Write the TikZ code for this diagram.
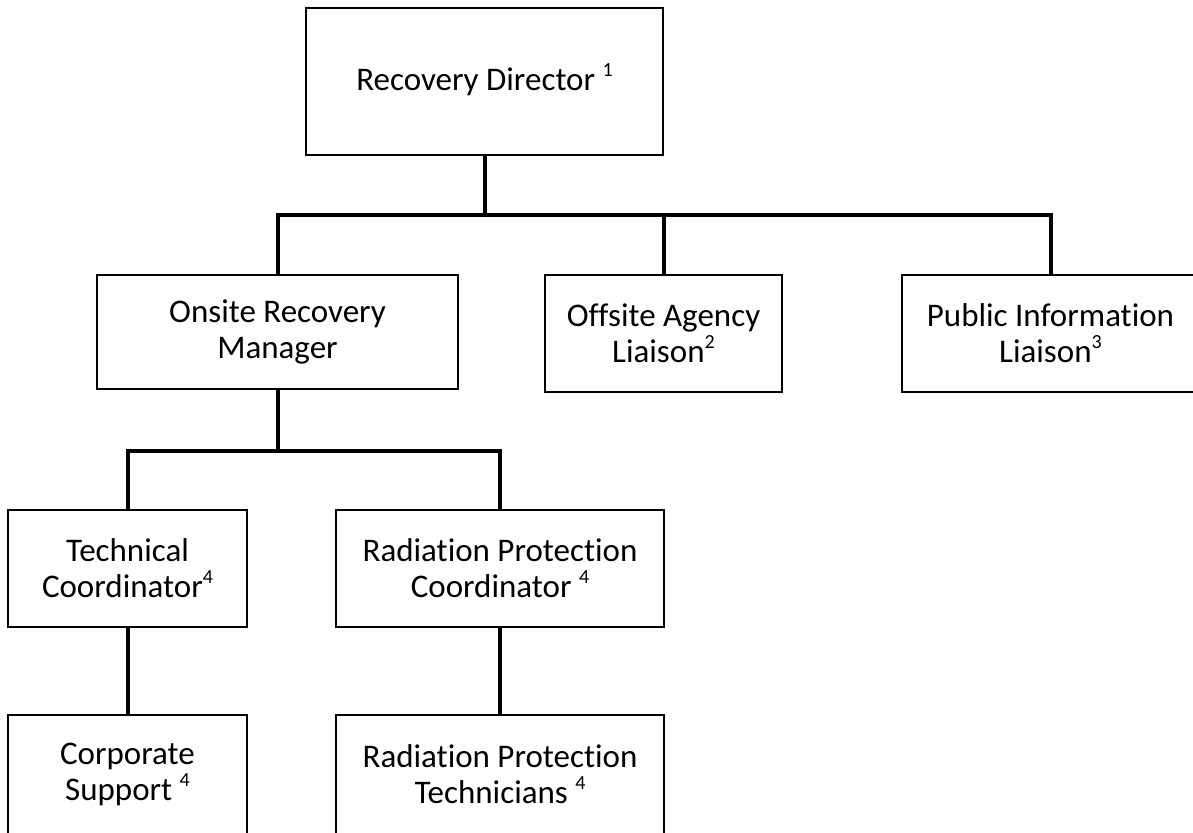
\documentclass[tikz,border=0pt]{standalone}
\usepackage{fontspec}
\setmainfont{Carlito}[RawFeature={-liga}]
\newcommand\supnum[1]{\smash{\raisebox{0.42em}{\fontsize{20}{20}\selectfont #1}}}
\begin{document}
\begin{tikzpicture}[x=1pt,y=-1pt,
  box/.style={draw=black, line width=1.4pt, fill=white, align=center,
    inner sep=0pt, font=\fontsize{33}{36}\selectfont},
  conn/.style={draw=black, line width=4pt}]
\useasboundingbox (0,0) rectangle (1193,832);
\fill[white] (0,0) rectangle (1193,832);
% rows
\node[box, minimum width=357pt, minimum height=147pt] (rd) at (484.5,81.5) {Recovery Director \supnum{1}};
\node[box, minimum width=361pt, minimum height=114pt] (onsite) at (277.5,332) {Onsite Recovery\\Manager};
\node[box, minimum width=237pt, minimum height=117pt] (offsite) at (663.5,333.5) {Offsite Agency\\Liaison\supnum{2}};
\node[box, minimum width=297pt, minimum height=117pt] (pub) at (1050.5,333.5) {Public Information\\Liaison\supnum{3}};
\node[box, minimum width=239pt, minimum height=117pt] (tech) at (127.5,568.5) {Technical\\Coordinator\supnum{4}};
\node[box, minimum width=328pt, minimum height=117pt] (rpc) at (500,568.5) {Radiation Protection\\Coordinator \supnum{4}};
\node[box, minimum width=239pt, minimum height=119pt] (corp) at (127.5,774.5) {Corporate\\Support \supnum{4}};
\node[box, minimum width=328pt, minimum height=119pt] (rpt) at (500,774.5) {Radiation Protection\\Technicians \supnum{4}};
% bars
\coordinate (b1) at (0,215);
\coordinate (b2) at (0,451);
% connectors
\draw[conn] (rd.south) -- (rd.south |- b1);
\draw[conn] (onsite.north) |- (pub.north |- b1) -- (pub.north);
\draw[conn] (offsite.north) -- (offsite.north |- b1);
\draw[conn] (onsite.south) -- (onsite.south |- b2);
\draw[conn] (tech.north) |- (rpc.north |- b2) -- (rpc.north);
\draw[conn] (tech.south) -- (corp.north);
\draw[conn] (rpc.south) -- (rpt.north);
\end{tikzpicture}
\end{document}
